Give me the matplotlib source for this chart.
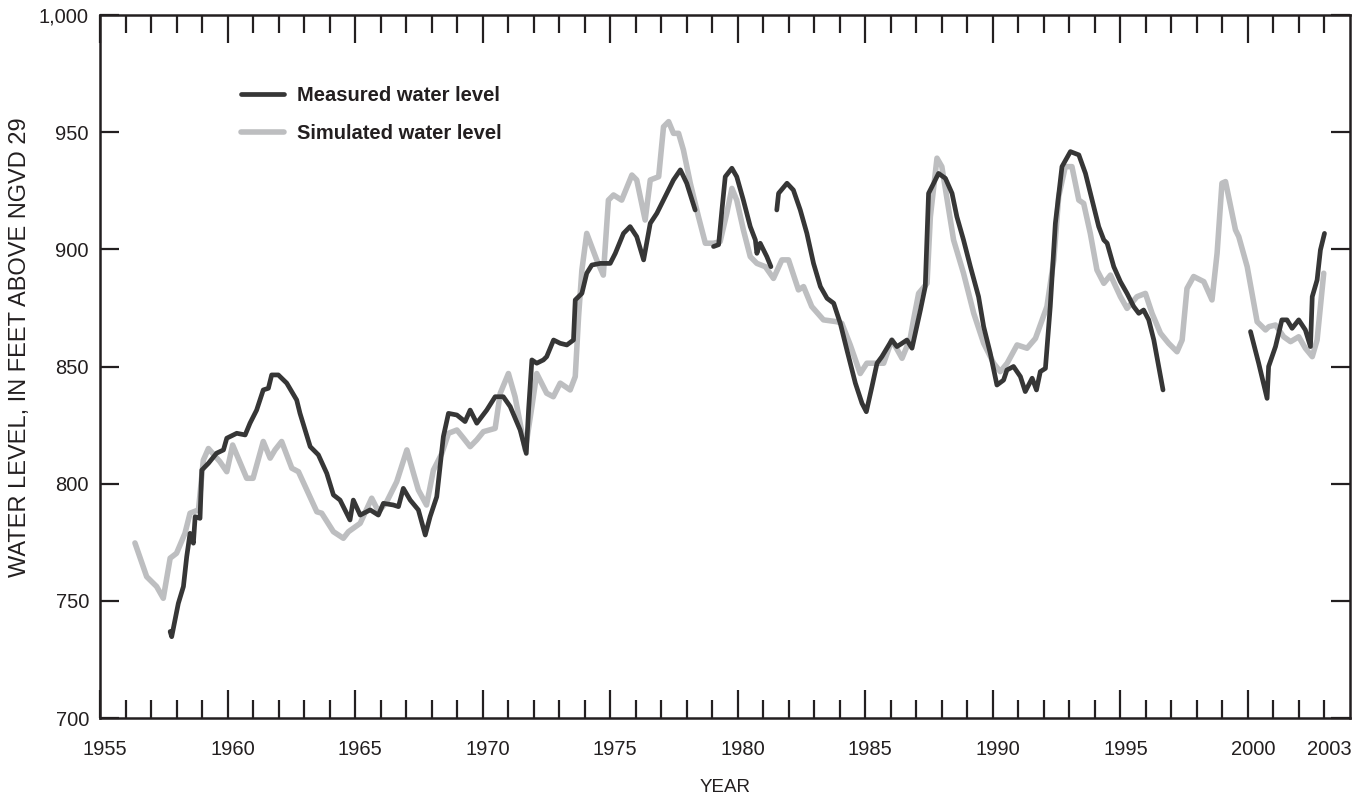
import numpy as np
import matplotlib.pyplot as plt
import matplotlib.transforms as mtransforms
from matplotlib.ticker import FuncFormatter

plt.rcParams['font.family'] = ['Liberation Sans', 'DejaVu Sans']

# --- Data ---
# measured water level; NaN marks breaks in the record
meas_year = [1957.75, 1957.81, 1958.07, 1958.27, 1958.40, 1958.53, 1958.66, 1958.73, 1958.92, 1958.99,
             1959.25, 1959.57, 1959.84, 1959.97, 1960.36, 1960.69, 1960.88, 1961.14, 1961.40, 1961.60,
             1961.73, 1961.99, 1962.32, 1962.71, 1962.84, 1963.24, 1963.56, 1963.89, 1964.15, 1964.41,
             1964.80, 1964.93, 1965.20, 1965.59, 1965.91, 1966.11, 1966.50, 1966.70, 1966.89, 1967.16,
             1967.48, 1967.75, 1967.94, 1968.20, 1968.46, 1968.66, 1968.99, 1969.31, 1969.51, 1969.77,
             1970.16, 1970.49, 1970.81, 1971.08, 1971.47, 1971.71, 1971.80, 1971.93, 1972.12, 1972.38,
             1972.51, 1972.78, 1973.04, 1973.30, 1973.56, 1973.63, 1973.89, 1974.08, 1974.28, 1974.61,
             1975.00, 1975.20, 1975.52, 1975.78, 1976.04, 1976.31, 1976.57, 1976.83, 1977.22, 1977.48,
             1977.75, 1978.00, 1978.33, 1978.60, 1979.05, 1979.25, 1979.38, 1979.51, 1979.77, 1979.96,
             1980.22, 1980.49, 1980.69, 1980.75, 1980.88, 1981.14, 1981.30, 1981.40, 1981.53, 1981.60,
             1981.93, 1982.18, 1982.45, 1982.71, 1982.97, 1983.24, 1983.50, 1983.76, 1984.02, 1984.28,
             1984.61, 1984.87, 1985.04, 1985.26, 1985.46, 1985.65, 1985.85, 1986.04, 1986.24, 1986.44,
             1986.63, 1986.83, 1986.96, 1987.16, 1987.35, 1987.48, 1987.68, 1987.87, 1988.14, 1988.40,
             1988.59, 1988.85, 1989.12, 1989.44, 1989.64, 1989.90, 1990.16, 1990.42, 1990.55, 1990.81,
             1991.08, 1991.27, 1991.54, 1991.71, 1991.86, 1992.06, 1992.25, 1992.45, 1992.71, 1993.04,
             1993.37, 1993.63, 1993.89, 1994.15, 1994.35, 1994.48, 1994.74, 1995.00, 1995.26, 1995.52,
             1995.72, 1995.91, 1996.11, 1996.31, 1996.50, 1996.67, 1998.00, 2000.10, 2000.42, 2000.75,
             2000.81, 2001.08, 2001.33, 2001.53, 2001.73, 2001.99, 2002.25, 2002.45, 2002.52, 2002.71,
             2002.84, 2003.00]
meas_level = [736.9, 734.7, 748.9, 756.1, 768.9, 778.8, 774.6, 785.9, 785.2, 805.8,
              808.7, 813.0, 814.4, 819.4, 821.5, 820.8, 825.8, 831.4, 840.0, 840.7,
              846.4, 846.4, 842.9, 835.7, 830.0, 815.8, 812.3, 804.4, 795.2, 793.0,
              784.5, 793.0, 786.6, 788.8, 786.6, 791.6, 790.9, 790.2, 798.0, 793.0,
              788.8, 778.1, 785.9, 794.4, 820.1, 830.0, 829.3, 826.5, 831.4, 825.8,
              831.4, 837.1, 837.1, 832.9, 822.9, 812.9, 831.4, 852.8, 851.4, 852.8,
              854.2, 861.3, 859.9, 859.2, 861.3, 878.4, 881.2, 889.8, 893.3, 894.0,
              894.0, 898.3, 906.8, 909.7, 905.4, 895.5, 911.1, 915.4, 923.9, 929.6,
              933.9, 928.2, 916.8, np.nan, 901.2, 902.0, 916.8, 931.0, 934.6, 931.0,
              921.0, 909.7, 904.0, 898.3, 902.6, 896.9, 892.6, np.nan, 916.8, 923.9,
              928.2, 925.3, 916.8, 906.8, 894.0, 884.1, 879.1, 877.0, 868.4, 857.0,
              842.9, 834.3, 830.7, 841.4, 851.4, 854.2, 857.8, 861.3, 858.5, 859.9,
              861.3, 857.8, 864.2, 874.1, 884.1, 923.9, 928.2, 932.4, 930.3, 923.9,
              913.9, 904.0, 892.6, 879.8, 867.0, 855.6, 842.1, 844.2, 848.5, 850.0,
              845.7, 839.3, 845.0, 840.0, 847.8, 849.2, 875.6, 911.1, 935.3, 941.7,
              940.3, 932.4, 921.0, 909.7, 904.0, 902.6, 892.6, 886.2, 881.2, 875.6,
              872.7, 874.1, 869.9, 861.3, 850.0, 840.0, np.nan, 864.9, 851.4, 836.4,
              850.0, 858.5, 869.9, 869.9, 866.3, 869.9, 865.6, 858.5, 879.8, 886.9,
              899.7, 906.8]

# simulated water level
sim_year = [1956.37, 1956.83, 1957.22, 1957.48, 1957.75, 1958.00, 1958.33, 1958.53, 1958.86, 1959.05,
            1959.25, 1959.70, 1959.97, 1960.20, 1960.75, 1961.00, 1961.40, 1961.67, 1961.86, 1962.12,
            1962.52, 1962.78, 1963.50, 1963.69, 1964.15, 1964.54, 1964.74, 1965.20, 1965.65, 1965.92,
            1966.24, 1966.63, 1967.03, 1967.29, 1967.48, 1967.80, 1968.07, 1968.40, 1968.66, 1968.99,
            1969.25, 1969.51, 1969.77, 1970.03, 1970.49, 1970.69, 1971.01, 1971.27, 1971.67, 1971.93,
            1972.12, 1972.51, 1972.77, 1973.04, 1973.43, 1973.63, 1973.76, 1973.89, 1974.08, 1974.47,
            1974.73, 1974.93, 1975.13, 1975.45, 1975.85, 1976.04, 1976.37, 1976.57, 1976.90, 1977.09,
            1977.29, 1977.48, 1977.68, 1977.87, 1978.14, 1978.46, 1978.73, 1979.05, 1979.31, 1979.57,
            1979.77, 1979.96, 1980.22, 1980.49, 1980.75, 1981.08, 1981.40, 1981.73, 1981.99, 1982.38,
            1982.58, 1982.90, 1983.36, 1983.89, 1984.08, 1984.41, 1984.80, 1985.06, 1985.72, 1986.04,
            1986.44, 1986.76, 1986.89, 1987.09, 1987.42, 1987.55, 1987.81, 1988.00, 1988.46, 1988.85,
            1989.25, 1989.64, 1990.03, 1990.29, 1990.56, 1990.95, 1991.34, 1991.67, 1991.93, 1992.12,
            1992.39, 1992.58, 1992.84, 1993.10, 1993.37, 1993.56, 1993.82, 1994.08, 1994.35, 1994.61,
            1995.00, 1995.26, 1995.65, 1995.98, 1996.24, 1996.57, 1996.89, 1997.22, 1997.42, 1997.61,
            1997.87, 1998.27, 1998.59, 1998.79, 1998.98, 1999.12, 1999.51, 1999.64, 1999.97, 2000.36,
            2000.69, 2000.82, 2001.08, 2001.40, 2001.67, 2001.99, 2002.25, 2002.52, 2002.71, 2002.97]
sim_level = [774.7, 760.3, 756.1, 751.1, 768.2, 770.3, 778.8, 787.4, 788.8, 810.0,
             815.0, 809.4, 805.1, 816.5, 802.3, 802.3, 818.0, 810.9, 814.4, 818.0,
             806.6, 805.1, 788.0, 787.4, 779.5, 776.7, 779.5, 783.1, 793.8, 788.0,
             792.3, 800.8, 814.4, 804.4, 797.3, 790.9, 805.8, 812.9, 821.5, 822.9,
             819.4, 815.8, 818.7, 822.2, 823.6, 838.6, 847.0, 837.1, 814.4, 832.9,
             847.0, 838.6, 837.1, 842.9, 840.0, 845.7, 871.3, 891.2, 906.8, 895.5,
             889.0, 921.0, 923.2, 921.0, 931.7, 929.6, 912.5, 929.6, 931.0, 952.3,
             954.5, 949.5, 949.5, 942.4, 928.2, 913.9, 902.6, 902.6, 903.3, 915.4,
             926.0, 921.0, 908.3, 896.9, 894.0, 892.6, 887.6, 895.5, 895.5, 882.7,
             884.1, 875.6, 869.9, 869.1, 868.4, 859.2, 847.0, 851.4, 851.4, 861.3,
             853.5, 862.0, 869.9, 881.2, 885.5, 913.9, 938.9, 935.3, 904.0, 889.8,
             872.7, 859.9, 851.4, 847.8, 851.4, 859.2, 857.8, 862.0, 869.9, 875.6,
             895.5, 922.5, 935.3, 935.3, 921.0, 919.6, 906.8, 891.2, 885.5, 889.0,
             879.8, 874.8, 879.8, 881.2, 872.7, 864.2, 859.9, 856.3, 861.3, 883.3,
             888.4, 886.2, 878.4, 898.3, 928.2, 928.9, 908.3, 905.4, 892.6, 869.1,
             865.6, 867.0, 867.7, 862.7, 860.6, 862.7, 857.8, 854.2, 861.3, 889.8]

x_major = [1955, 1960, 1965, 1970, 1975, 1980, 1985, 1990, 1995, 2000, 2003]
y_ticks = [700, 750, 800, 850, 900, 950, 1000]

dark = '#363636'
light = '#bdbec0'
ink = '#231f20'

fig = plt.figure(figsize=(13.65, 7.97), dpi=100)
ax = fig.add_axes([100 / 1365, 79 / 797, 1250 / 1365, 703 / 797])

ax.plot(sim_year, sim_level, color=light, lw=4.0, solid_joinstyle='round',
        solid_capstyle='round', label='Simulated water level', zorder=2)
ax.plot(meas_year, meas_level, color=dark, lw=3.4, solid_joinstyle='round',
        solid_capstyle='round', label='Measured water level', zorder=3)

ax.set_xlim(1955, 2004)
ax.set_ylim(700, 1000)

ax.set_xticks(x_major)
ax.set_xticks(np.arange(1956, 2004), minor=True)
ax.set_yticks(y_ticks)
ax.yaxis.set_major_formatter(FuncFormatter(lambda v, p: f'{int(v):,}'))

ax.tick_params(axis='x', which='major', direction='in', length=20, width=1.6,
               top=True, bottom=True, labelsize=14.5, pad=16, colors=ink)
ax.tick_params(axis='x', which='minor', direction='in', length=13, width=1.6,
               top=True, bottom=True, colors=ink)
ax.tick_params(axis='y', which='major', direction='in', length=14, width=1.6,
               left=True, right=True, labelsize=14.5, pad=8, colors=ink)
# 2003 is labelled but gets a short tick like the other years
last = ax.xaxis.get_major_ticks()[-1]
last.tick1line.set_markersize(13)
last.tick2line.set_markersize(13)

# year labels sit a few pixels right of their ticks in the original
shift = mtransforms.ScaledTranslation(5 / 100, 0, fig.dpi_scale_trans)
for lab in ax.get_xticklabels():
    lab.set_transform(lab.get_transform() + shift)

for s in ax.spines.values():
    s.set_linewidth(1.8)
    s.set_color(ink)

ax.set_xlabel('YEAR', fontsize=13.5, labelpad=14, color=ink)
ax.set_ylabel('WATER LEVEL, IN FEET ABOVE NGVD 29', fontsize=17, color=ink)
ax.yaxis.set_label_coords(-0.055, 0.528)

handles, labels = ax.get_legend_handles_labels()
leg = ax.legend(handles[::-1], labels[::-1], loc='upper left', bbox_to_anchor=(0.098, 0.925),
                frameon=False, handlelength=2.15, handletextpad=0.65, labelspacing=0.95,
                prop={'weight': 'bold', 'size': 14.5})
for t in leg.get_texts():
    t.set_color(ink)

fig.savefig('out.png', dpi=100)
